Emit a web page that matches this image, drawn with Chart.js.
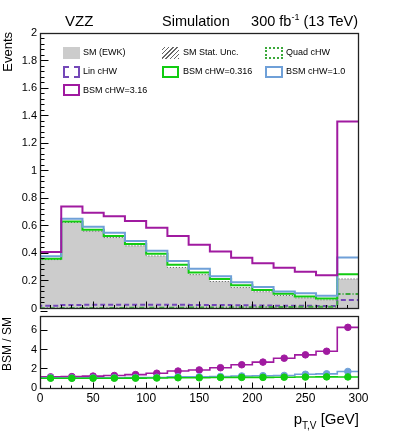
<!DOCTYPE html>
<html><head><meta charset="utf-8">
<script src="https://cdn.jsdelivr.net/npm/chart.js@4/dist/chart.umd.min.js"></script>
<style>
html,body{margin:0;padding:0;background:#fff;}
#wrap{position:relative;width:399px;height:442px;overflow:hidden;font-family:"Liberation Sans",Arial,Helvetica,sans-serif;color:#000;}
canvas{position:absolute;left:0;top:0;}
.t{position:absolute;white-space:nowrap;line-height:1;}
.rot{transform:rotate(-90deg);transform-origin:0 0;}
.box{position:absolute;width:17px;height:12px;box-sizing:border-box;}
.lg{position:absolute;font-size:9px;line-height:1;white-space:nowrap;}
</style></head>
<body><div id="wrap">
<canvas id="c1" width="399" height="330"></canvas>
<canvas id="c2" width="399" height="442"></canvas>

<div class="t" style="left:65px;top:13.3px;font-size:15px;">VZZ</div>
<div class="t" style="left:162px;top:13.7px;font-size:14.5px;">Simulation</div>
<div class="t" style="right:41px;top:13.7px;font-size:14.5px;">300 fb<span style="font-size:9px;position:relative;top:-6px;">-1</span> (13 TeV)</div>
<div class="t rot" style="left:1px;top:92px;width:60px;text-align:right;font-size:13px;">Events</div>
<div class="t rot" style="left:1px;top:384px;width:80px;text-align:center;font-size:12px;">BSM / SM</div>
<div class="t" style="right:40px;top:411px;font-size:15px;">p<span style="font-size:10px;position:relative;top:5px;">T,V</span> [GeV]</div>

<div class="box" style="left:63px;top:46.5px;background:#cccccc;"></div>
<div class="lg" style="left:83px;top:48px;">SM (EWK)</div>
<div class="box" style="left:63px;top:65.5px;border:2px dashed #7448b8;"></div>
<div class="lg" style="left:83px;top:67px;">Lin cHW</div>
<div class="box" style="left:63px;top:84px;border:2px solid #a01aa0;"></div>
<div class="lg" style="left:83px;top:85.5px;">BSM cHW=3.16</div>

<div class="box" style="left:162px;top:46.5px;background:repeating-linear-gradient(-45deg,#666 0 1px,transparent 1px 3px);"></div>
<div class="lg" style="left:183px;top:48px;">SM Stat. Unc.</div>
<div class="box" style="left:162px;top:65.5px;border:2px solid #11cc11;"></div>
<div class="lg" style="left:183px;top:67px;">BSM cHW=0.316</div>

<div class="box" style="left:265px;top:46.5px;width:18px;border:2px dotted #3aa83a;"></div>
<div class="lg" style="left:286px;top:48px;">Quad cHW</div>
<div class="box" style="left:265px;top:65.5px;width:18px;border:2px solid #6fa0d8;"></div>
<div class="lg" style="left:286px;top:67px;">BSM cHW=1.0</div>
</div>
<script>
// ---- data ----
const binLow = [0,20,40,60,80,100,120,140,160,180,200,220,240,260,280];
const binWidth = 20;
const smEWK   = [0.355,0.625,0.562,0.515,0.455,0.382,0.298,0.246,0.196,0.152,0.122,0.095,0.077,0.063,0.215];
const linCHW  = [0.020,0.026,0.027,0.028,0.028,0.028,0.027,0.026,0.025,0.023,0.022,0.020,0.020,0.018,0.061];
const quadCHW = [0.002,0.003,0.004,0.004,0.005,0.005,0.006,0.007,0.008,0.009,0.010,0.011,0.012,0.013,0.105];
const bsm0316 = [0.362,0.632,0.572,0.526,0.468,0.397,0.318,0.262,0.214,0.168,0.135,0.107,0.088,0.073,0.248];
const bsm1p0  = [0.380,0.652,0.594,0.550,0.490,0.420,0.345,0.288,0.234,0.190,0.156,0.124,0.110,0.093,0.370];
const bsm3p16 = [0.410,0.740,0.696,0.670,0.635,0.587,0.526,0.463,0.414,0.368,0.329,0.295,0.266,0.241,1.358];
const xTicks = [0,50,100,150,200,250,300];

const COL = {sm:'#cccccc', lin:'#7448b8', quad:'#3aa83a', g:'#11cc11', b:'#6fa0d8', p:'#a01aa0'};

function hist(vals){
  const pts=[{x:binLow[0],y:0}];
  vals.forEach((v,i)=>pts.push({x:binLow[i],y:v}));
  pts.push({x:binLow[binLow.length-1]+binWidth,y:vals[vals.length-1]});
  return pts;
}
function ratio(vals){ return vals.map((v,i)=>v/smEWK[i]); }
function centers(vals){ return vals.map((v,i)=>({x:binLow[i]+binWidth/2,y:v})); }

const rootTicks = {
  id:'rootTicks',
  afterDatasetsDraw(chart, args, opts){
    const {ctx, chartArea:a, scales} = chart;
    const L=Math.floor(a.left)+0.5, R=Math.floor(a.right)+0.5, T=Math.floor(a.top)+0.5, B=Math.floor(a.bottom)+0.5;
    ctx.save();
    ctx.strokeStyle='#000'; ctx.lineWidth=1;
    ctx.beginPath();
    for(const t of opts.x){
      const s=scales.x, n=Math.round((s.max-s.min)/t.step);
      for(let k=0;k<=n;k++){ const px=Math.floor(s.getPixelForValue(s.min+k*t.step))+0.5; ctx.moveTo(px,B); ctx.lineTo(px,B-t.len); }
    }
    for(const t of opts.y){
      const s=scales.y, n=Math.round((s.max-s.min)/t.step);
      for(let k=0;k<=n;k++){ const py=Math.floor(s.getPixelForValue(s.min+k*t.step))+0.5; ctx.moveTo(L,py); ctx.lineTo(L+t.len,py); }
    }
    ctx.stroke();
    ctx.strokeStyle='#222'; ctx.lineWidth=1.3;
    ctx.strokeRect(L,T,R-L,B-T);
    ctx.restore();
  }
};

const font = {family:'"Liberation Sans", Arial, sans-serif'};

function line(label, vals, color, width, dash){
  return {label, data:hist(vals), borderColor:color, borderWidth:width, borderDash:dash||[], stepped:'before', pointRadius:0, fill:false};
}

new Chart(document.getElementById('c1'), {
  type:'line',
  data:{datasets:[
    line('BSM cHW=3.16', bsm3p16, COL.p, 2),
    line('BSM cHW=1.0', bsm1p0, COL.b, 2),
    line('BSM cHW=0.316', bsm0316, COL.g, 2),
    line('Quad cHW', quadCHW, COL.quad, 2, [5,2,1,2]),
    line('Lin cHW', linCHW, COL.lin, 2, [5,3]),
    line('SM Stat. Unc.', smEWK, '#555', 1, [1,2]),
    {label:'SM (EWK)', data:hist(smEWK), stepped:'before', pointRadius:0, borderWidth:0, backgroundColor:COL.sm, fill:'origin'}
  ]},
  options:{
    responsive:false, animation:false, devicePixelRatio:1,
    layout:{padding:{left:0,right:40.5,top:33,bottom:21.5}},
    plugins:{legend:{display:false}, tooltip:{enabled:false},
      rootTicks:{x:[{step:50,len:7},{step:10,len:3.5}], y:[{step:0.2,len:8},{step:0.04,len:4}]}},
    scales:{
      x:{type:'linear', min:0, max:300, display:false},
      y:{type:'linear', min:0, max:2, afterFit(s){s.width=40;},
         grid:{display:false, drawTicks:false}, border:{display:false},
         ticks:{stepSize:0.2, padding:3, color:'#000', font:{...font,size:11},
                callback:v=>String(Math.round(v*10)/10)}}
    }
  },
  plugins:[rootTicks]
});

function rline(vals,color){
  return {data:hist(ratio(vals)), borderColor:color, borderWidth:1.6, stepped:'before', pointRadius:0, fill:false};
}
function rpts(vals,color){
  return {data:centers(ratio(vals)), showLine:false, pointRadius:3.3, pointBackgroundColor:color, pointBorderColor:color, borderColor:color};
}
new Chart(document.getElementById('c2'), {
  type:'line',
  data:{datasets:[
    rpts(bsm0316, COL.g), rline(bsm0316, COL.g),
    rpts(bsm1p0, COL.b), rline(bsm1p0, COL.b),
    rpts(bsm3p16, COL.p), rline(bsm3p16, COL.p)
  ]},
  options:{
    responsive:false, animation:false, devicePixelRatio:1,
    layout:{padding:{left:0,right:40.5,top:316,bottom:24}},
    plugins:{legend:{display:false}, tooltip:{enabled:false},
      rootTicks:{x:[{step:50,len:6},{step:10,len:3}], y:[{step:2,len:7}]}},
    scales:{
      x:{type:'linear', min:0, max:300, afterFit(s){s.height=30;},
         afterBuildTicks(s){ s.ticks = xTicks.map(v=>({value:v})); },
         grid:{display:false, drawTicks:false}, border:{display:false},
         ticks:{padding:3, color:'#000', maxRotation:0, font:{...font,size:12}}},
      y:{type:'linear', min:0, max:7.5, afterFit(s){s.width=40;},
         grid:{display:false, drawTicks:false}, border:{display:false},
         ticks:{stepSize:2, includeBounds:false, padding:3, color:'#000', font:{...font,size:11}}}
    }
  },
  plugins:[rootTicks]
});
</script>
</body></html>
